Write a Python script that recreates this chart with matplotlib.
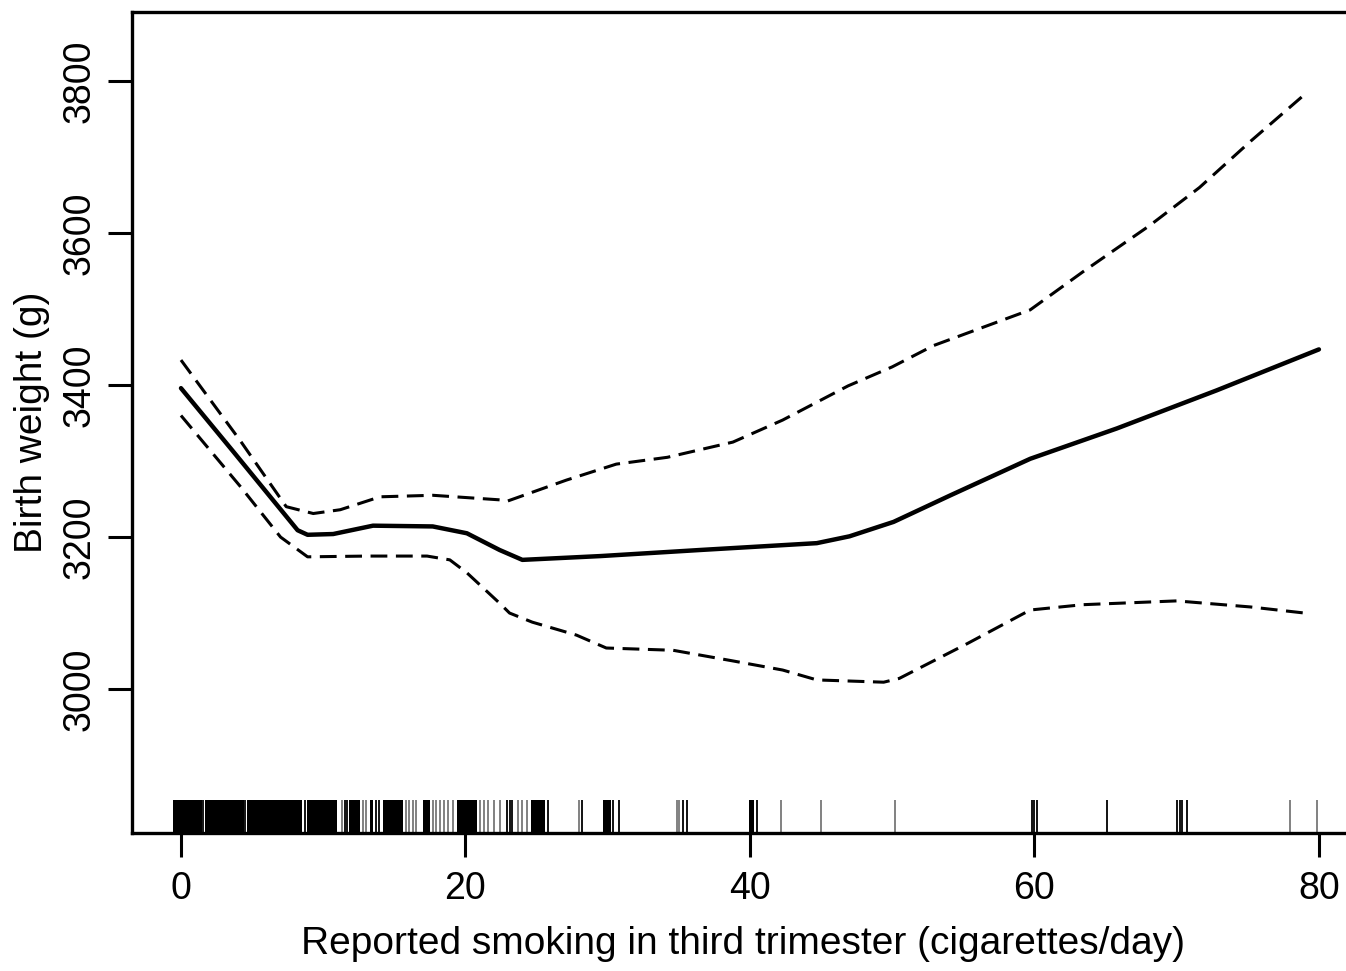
import matplotlib
matplotlib.use("Agg")
import matplotlib.pyplot as plt

plt.rcParams['font.family'] = ['Liberation Sans', 'DejaVu Sans']

# smoothed fit and pointwise confidence band
fit_x = [0, 3.7, 8.2, 8.9, 10.7, 13.5, 17.7, 20.1, 22.4, 24.0, 29.5, 36.5, 44.7, 47.0,
         50.1, 54.1, 59.7, 65.8, 72.8, 80.0]
fit_y = [3396, 3312, 3209, 3203, 3204, 3215, 3214, 3205, 3183, 3170, 3175, 3183, 3192, 3201,
         3220, 3255, 3303, 3343, 3393, 3447]

upper_x = [0, 4.2, 7.4, 9.3, 11.2, 14.0, 17.7, 22.4, 22.9, 27.1, 30.6, 34.2, 38.8, 42.3,
           46.9, 50.0, 52.9, 59.7, 63.4, 68.1, 71.6, 75.2, 78.9]
upper_y = [3433, 3326, 3240, 3231, 3236, 3253, 3255, 3249, 3247, 3275, 3296, 3305, 3325, 3354,
           3399, 3424, 3452, 3499, 3549, 3610, 3660, 3721, 3781]

lower_x = [0, 4.2, 7.0, 8.9, 13.1, 17.3, 18.9, 20.1, 22.4, 23.1, 24.7, 27.8, 29.9, 34.6,
           38.8, 42.3, 44.7, 49.4, 50.5, 55.3, 59.7, 63.4, 70.0, 75.2, 79.0]
lower_y = [3360, 3266, 3200, 3174, 3175, 3175, 3170, 3153, 3113, 3100, 3088, 3071, 3054, 3051,
           3037, 3025, 3012, 3009, 3014, 3060, 3104, 3111, 3116, 3108, 3100]

# rug of observed smoking values: solid blocks and single lines
rug_blocks = [(-0.55, 1.45), (1.7, 4.4), (4.65, 8.5), (8.85, 10.95), (11.8, 12.6),
              (13.3, 13.5), (14.2, 15.6), (17.0, 17.5), (19.4, 20.8), (24.6, 25.6),
              (29.7, 30.2), (39.9, 40.3)]
rug_lines = [1.55, 4.5, 8.7, 11.3, 11.5, 11.7, 12.8, 13.0, 13.7, 13.9, 15.8, 16.0, 16.3, 16.5,
             17.7, 17.9, 18.2, 18.5, 18.8, 19.1, 21.0, 21.3, 21.6, 22.0, 22.4, 22.9,
             23.1, 23.3, 23.7, 24.0, 24.3, 25.8, 28.0, 28.2, 30.4, 30.8, 34.9, 35.0,
             35.3, 35.6, 40.5, 42.2, 45.0, 50.2, 59.8, 60.0, 60.2, 65.1, 70.0, 70.2,
             70.4, 70.7, 78.0, 79.9]
rug_faint = [11.3, 12.8, 13.0, 15.8, 16.0, 16.3, 16.5, 17.7, 17.9, 18.2, 18.5, 18.8,
             19.1, 21.0, 21.3, 21.6, 22.0, 22.4, 23.7, 24.0, 24.3, 28.0, 34.9, 35.0,
             42.2, 45.0, 50.2, 78.0, 79.9]

xticks = [0, 20, 40, 60, 80]
yticks = [3000, 3200, 3400, 3600, 3800]

fig = plt.figure(figsize=(13.46, 9.71), dpi=100)
ax = fig.add_axes([0.0981, 0.1421, 0.9082, 0.8455])

ax.plot(fit_x, fit_y, color='black', lw=3.2, solid_capstyle='round', solid_joinstyle='round')
ax.plot(upper_x, upper_y, color='black', lw=2.2, dashes=(5.5, 2.8))
ax.plot(lower_x, lower_y, color='black', lw=2.2, dashes=(5.5, 2.8))

ybot = 2810.5
rug_top = 2854
for a, b in rug_blocks:
    ax.fill_between([a, b], ybot, rug_top, color='black', lw=0)
for v in rug_lines:
    c = '#777777' if v in rug_faint else 'black'
    ax.vlines(v, ybot, rug_top, color=c, lw=1.3)

ax.set_xlim(-3.44, 82.5)
ax.set_ylim(ybot, 3891)

ax.set_xticks(xticks)
ax.set_yticks(yticks)
ax.set_yticklabels([str(t) for t in yticks], rotation=90, va='center')
ax.tick_params(axis='both', direction='out', length=17, width=2.2, labelsize=27,
               colors='black')
ax.tick_params(axis='x', pad=10)
ax.tick_params(axis='y', pad=8)

for s in ['left', 'top', 'bottom']:
    ax.spines[s].set_linewidth(2.4)
ax.spines['right'].set_visible(False)

ax.set_xlabel("Reported smoking in third trimester (cigarettes/day)", fontsize=28, labelpad=14)
ax.set_ylabel("Birth weight (g)", fontsize=28, labelpad=8)

fig.savefig("out.png", dpi=100)
